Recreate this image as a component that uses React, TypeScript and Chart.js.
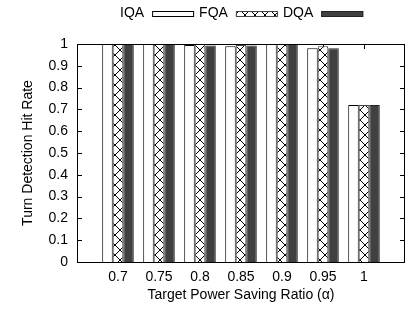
import React, { useEffect, useRef } from 'react';
import { Chart, registerables } from 'chart.js';

Chart.register(...registerables);

const categories = ['0.7', '0.75', '0.8', '0.85', '0.9', '0.95', '1'];
const iqaValues = [1.0, 1.0, 0.995, 0.99, 1.0, 0.98, 0.72];
const fqaValues = [1.0, 1.0, 1.0, 0.995, 1.0, 0.99, 0.72];
const dqaValues = [1.0, 1.0, 0.993, 0.993, 1.0, 0.98, 0.72];
const seriesNames = ['IQA', 'FQA', 'DQA'];
const yTickLabels = ['0', '0.1', '0.2', '0.3', '0.4', '0.5', '0.6', '0.7', '0.8', '0.9', '1'];
const xTitle = 'Target Power Saving Ratio (\u03b1)';
const yTitle = 'Turn Detection Hit Rate';

const FONT = '"Liberation Sans", Arial, Helvetica, sans-serif';

function makeCrossPattern(): CanvasPattern | string {
  const c = document.createElement('canvas');
  c.width = 10;
  c.height = 10;
  const g = c.getContext('2d');
  if (!g) return '#fff';
  g.fillStyle = '#fff';
  g.fillRect(0, 0, 10, 10);
  g.strokeStyle = '#000';
  g.lineWidth = 1;
  g.beginPath();
  g.moveTo(0, 0);
  g.lineTo(10, 10);
  g.moveTo(10, 0);
  g.lineTo(0, 10);
  g.stroke();
  const p = g.createPattern(c, 'repeat');
  return p || '#fff';
}

export default function App() {
  const ref = useRef<HTMLCanvasElement | null>(null);

  useEffect(() => {
    const canvas = ref.current;
    if (!canvas) return;
    const cross = makeCrossPattern();
    const fills: (string | CanvasPattern)[] = ['#ffffff', cross, '#404040'];
    const borders = ['#000000', '#444444', '#222222'];
    const pad = (arr: number[]) => [null, ...arr, null];

    const framePlugin = {
      id: 'frame',
      beforeDatasetsDraw(chart: any) {
        const { ctx, chartArea, scales } = chart;
        const { left, right, top, bottom } = chartArea;
        const x = scales.x;
        const y = scales.y;
        ctx.save();
        ctx.strokeStyle = '#000';
        ctx.lineWidth = 1;
        ctx.beginPath();
        y.ticks.forEach((t: any) => {
          const py = Math.round(y.getPixelForValue(t.value)) + 0.5;
          ctx.moveTo(left, py);
          ctx.lineTo(left + 5, py);
          ctx.moveTo(right - 5, py);
          ctx.lineTo(right, py);
        });
        categories.forEach((_, i) => {
          const px = Math.round(x.getPixelForValue(i + 1)) + 0.5;
          ctx.moveTo(px, top);
          ctx.lineTo(px, top + 5);
          ctx.moveTo(px, bottom);
          ctx.lineTo(px, bottom - 5);
        });
        ctx.stroke();
        ctx.restore();
      },
      afterDatasetsDraw(chart: any) {
        const { ctx, chartArea } = chart;
        const { left, right, top, bottom } = chartArea;
        ctx.save();
        ctx.strokeStyle = '#000';
        ctx.lineWidth = 1;
        const l = Math.round(left) + 0.5;
        const t = Math.round(top) + 0.5;
        const r = Math.round(right) - 0.5;
        const b = Math.round(bottom) + 0.5;
        ctx.strokeRect(l, t, r - l, b - t);

        // legend: text followed by a long sample box
        ctx.font = '14px ' + FONT;
        ctx.textBaseline = 'middle';
        ctx.textAlign = 'left';
        ctx.fillStyle = '#000';
        let cx = 120;
        const cy = 13;
        seriesNames.forEach((name, i) => {
          ctx.fillStyle = '#000';
          ctx.fillText(name, cx, cy);
          cx += ctx.measureText(name).width + 8;
          ctx.fillStyle = fills[i];
          ctx.fillRect(cx, 11, 42, 6);
          ctx.strokeStyle = borders[i];
          ctx.strokeRect(cx + 0.5, 11.5, 41, 5);
          cx += 42 + 5;
        });
        ctx.restore();
      },
    };

    const chart = new Chart(canvas, {
      type: 'bar',
      data: {
        labels: ['', ...categories, ''],
        datasets: [
          { label: seriesNames[0], data: pad(iqaValues), backgroundColor: fills[0], borderColor: borders[0], borderWidth: 1 },
          { label: seriesNames[1], data: pad(fqaValues), backgroundColor: fills[1], borderColor: borders[1], borderWidth: 1 },
          { label: seriesNames[2], data: pad(dqaValues), backgroundColor: fills[2], borderColor: borders[2], borderWidth: 1 },
        ] as any,
      },
      options: {
        responsive: false,
        animation: false,
        devicePixelRatio: 1,
        layout: { padding: { top: 44, right: 1, left: 0, bottom: 0 } },
        plugins: { legend: { display: false }, tooltip: { enabled: false }, title: { display: false } },
        datasets: { bar: { categoryPercentage: 0.77, barPercentage: 1 } },
        scales: {
          x: {
            type: 'category',
            offset: false,
            grid: { display: false, drawTicks: false },
            border: { display: false },
            ticks: { color: '#000', font: { family: FONT, size: 14 }, padding: 7, maxRotation: 0, autoSkip: false },
            title: { display: true, text: xTitle, color: '#000', font: { family: FONT, size: 14 }, padding: { top: 0, bottom: 8 } },
            afterFit: (s: any) => { s.height = 50; },
          },
          y: {
            type: 'linear',
            min: 0,
            max: 1,
            grid: { display: false, drawTicks: false },
            border: { display: false },
            ticks: {
              stepSize: 0.1,
              color: '#000',
              font: { family: FONT, size: 14 },
              padding: 9,
              callback: (_v: any, i: number) => yTickLabels[i],
            },
            title: { display: true, text: yTitle, color: '#000', font: { family: FONT, size: 14 }, padding: { top: 20, bottom: 0 } },
            afterFit: (s: any) => { s.width = 77; },
          },
        },
      } as any,
      plugins: [framePlugin],
    });
    return () => chart.destroy();
  }, []);

  return (
    <div style={{ position: 'fixed', left: 0, top: 0, width: 412, height: 312, background: '#fff' }}>
      <canvas ref={ref} width={412} height={312} style={{ width: 412, height: 312, display: 'block' }} />
    </div>
  );
}
